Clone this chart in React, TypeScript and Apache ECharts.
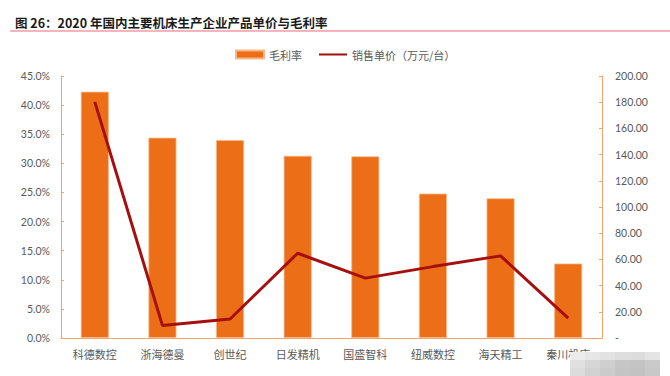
import React, { useEffect, useRef } from "react";
import * as echarts from "echarts";

const categories = ["科德数控", "浙海德曼", "创世纪", "日发精机", "国盛智科", "纽威数控", "海天精工", "秦川机床"];
const grossMargin = [42.3, 34.4, 34.0, 31.3, 31.2, 24.8, 24.0, 12.8];
const unitPrice = [180.2, 9.6, 14.5, 64.7, 45.7, 54.5, 62.7, 15.2];
const titleText = "图 26：2020 年国内主要机床生产企业产品单价与毛利率";
const barName = "毛利率";
const lineName = "销售单价（万元/台）";
const mosaicShades = [
  ["#ececec", "#e6e6e6", "#e2e2e2", "#dedede", "#dcdcdc", "#e4e4e4"],
  ["#e0e0e0", "#d6d6d6", "#cfcfcf", "#c6c6c6", "#c4c4c4", "#cacaca"],
  ["#dcdcdc", "#d2d2d2", "#cbcbcb", "#c4c4c4", "#c2c2c2", "#c8c8c8"],
];

const AXIS_COLOR = "#F4A36A";
const LABEL_COLOR = "#595959";
const NUM_FONT = "Lato, 'Liberation Sans', sans-serif";
const CJK_FONT = "'Noto Sans CJK SC', sans-serif";

export default function App() {
  const ref = useRef<HTMLDivElement>(null);
  useEffect(() => {
    if (!ref.current) return;
    const chart = echarts.init(ref.current, undefined, { renderer: "svg" });
    const mosaic: any[] = [];
    mosaicShades.forEach((row, r) => {
      row.forEach((c, i) => {
        mosaic.push({
          type: "rect",
          shape: { x: 570 + i * 15, y: 352 + r * 8, width: 15, height: 8 },
          style: { fill: c },
          z: 100,
        });
      });
    });
    chart.setOption({
      animation: false,
      backgroundColor: "#ffffff",
      grid: { left: 61, right: 68, top: 76, bottom: 38, containLabel: false },
      legend: {
        top: 44,
        left: 230,
        itemWidth: 28,
        itemHeight: 8,
        itemGap: 16,
        textStyle: { color: LABEL_COLOR, fontSize: 11, fontFamily: CJK_FONT },
        data: [
          { name: barName, icon: "rect" },
          { name: lineName, itemStyle: { opacity: 0 } },
        ],
      },
      xAxis: {
        type: "category",
        data: categories,
        axisLine: { show: true, lineStyle: { color: AXIS_COLOR, width: 1 } },
        axisTick: { show: false },
        axisLabel: { color: LABEL_COLOR, fontSize: 11, fontFamily: CJK_FONT, margin: 10, interval: 0 },
      },
      yAxis: [
        {
          type: "value",
          min: 0,
          max: 45,
          interval: 5,
          axisLine: { show: true, lineStyle: { color: AXIS_COLOR, width: 1 } },
          axisTick: { show: true, inside: true, length: 3, lineStyle: { color: AXIS_COLOR } },
          splitLine: { show: false },
          axisLabel: {
            color: LABEL_COLOR,
            fontSize: 10.5,
            fontFamily: NUM_FONT,
            margin: 11,
            formatter: (v: number) => v.toFixed(1) + "%",
          },
        },
        {
          type: "value",
          min: 0,
          max: 200,
          interval: 20,
          position: "right",
          axisLine: { show: true, lineStyle: { color: AXIS_COLOR, width: 1 } },
          axisTick: { show: true, inside: true, length: 3, lineStyle: { color: AXIS_COLOR } },
          splitLine: { show: false },
          axisLabel: {
            color: LABEL_COLOR,
            fontSize: 10.5,
            fontFamily: NUM_FONT,
            margin: 13,
            formatter: (v: number) => (v === 0 ? "-" : v.toFixed(2)),
          },
        },
      ],
      series: [
        {
          name: barName,
          type: "bar",
          data: grossMargin,
          barWidth: 28,
          yAxisIndex: 0,
          itemStyle: { color: "#EC6F17", borderColor: "#F6B88A", borderWidth: 0.8 },
        },
        {
          name: lineName,
          type: "line",
          data: unitPrice,
          yAxisIndex: 1,
          symbol: "none",
          lineStyle: { color: "#A50F0F", width: 3 },
          itemStyle: { color: "#A50F0F" },
        },
      ],
      graphic: [
        {
          type: "text",
          x: 15,
          y: 22,
          style: {
            text: titleText,
            fill: "#1a1a1a",
            fontSize: 12.5,
            fontWeight: "bold",
            fontFamily: CJK_FONT,
            textVerticalAlign: "middle",
          },
        },
        {
          type: "line",
          shape: { x1: 10, y1: 31, x2: 670, y2: 31 },
          style: { stroke: "#F06A78", lineWidth: 1.2 },
        },
        ...mosaic,
      ],
    });
    return () => chart.dispose();
  }, []);
  return <div ref={ref} style={{ width: 670, height: 376, position: "absolute", left: 0, top: 0 }} />;
}
